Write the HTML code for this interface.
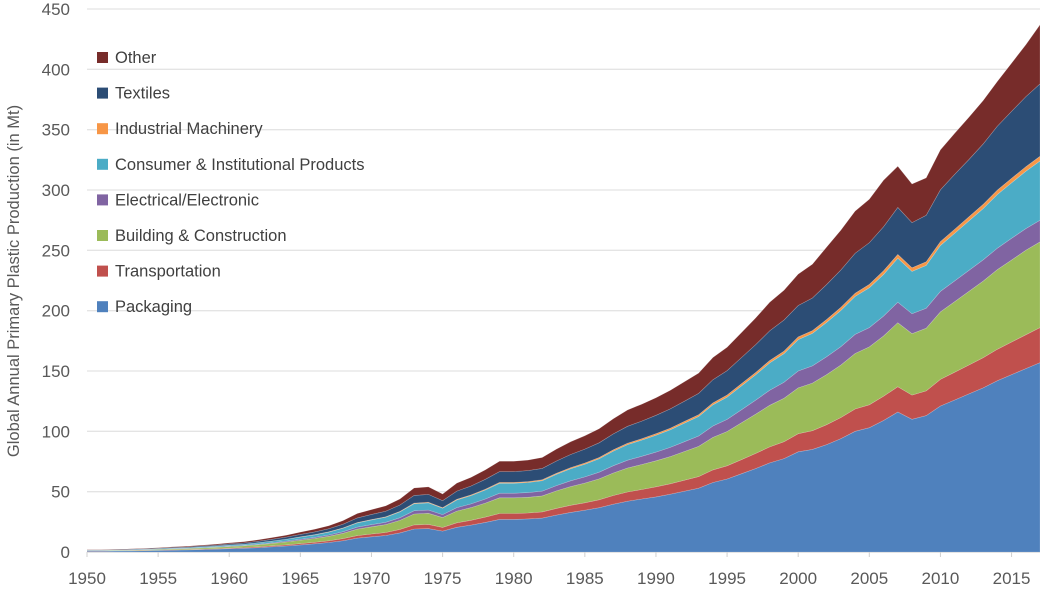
<!DOCTYPE html>
<html><head><meta charset="utf-8"><style>
html,body{margin:0;padding:0;background:#fff;}
svg{display:block;font-family:"Liberation Sans",sans-serif;}
</style></head><body>
<svg id="chart" width="1044" height="590" viewBox="0 0 1044 590"></svg>
<script>
const years = []; for (let y = 1950; y <= 2017; y++) years.push(y);
const packaging = [0.7,0.7,0.8,0.9,1.1,1.3,1.5,1.7,2,2.3, 2.7,3.1,3.6,4.3,5,5.9,6.8,7.9,9.4,11.5, 12.6,13.7,15.8,19.1,19.4,17.3,20.5,22.3,24.5,27, 27,27.4,28.1,30.6,32.8,34.6,36.7,39.6,42.1,43.9, 45.7,47.9,50.4,52.9,57.6,60.5,64.8,69.1,73.8,77.4, 83,85,89,94,100,103,109,116,110,113, 121,126,131,136,142,147,152,157];
const transportation = [0.1,0.1,0.15,0.2,0.2,0.2,0.3,0.3,0.4,0.4, 0.5,0.6,0.7,0.8,0.9,1.1,1.2,1.4,1.7,2.1, 2.3,2.5,2.9,3.4,3.5,3.1,3.7,4,4.4,4.9, 4.9,4.9,5.1,5.5,5.9,6.2,6.6,7.2,7.6,7.9, 8.3,8.6,9.1,9.6,10.4,10.9,11.7,12.5,13.3,14, 15,15.5,16.5,17.5,18.5,19,20,21,20,20.5, 22,23,24,25,26,27,28,29];
const building = [0.3,0.3,0.4,0.4,0.5,0.6,0.7,0.8,0.9,1.1, 1.3,1.4,1.7,2,2.4,2.8,3.2,3.7,4.4,5.4, 6,6.5,7.5,9,9.2,8.2,9.7,10.5,11.6,13, 13,13,13.3,14.5,15.5,16.3,17.3,18.7,19.9,20.7, 21.6,22.6,23.8,25,27,28.5,30.5,32.5,34.5,36, 38,39.5,41.5,43.5,46,48,50,53,51,52, 56,58.5,61,63.5,66,68,70,71];
const electrical = [0.1,0.1,0.1,0.1,0.15,0.2,0.2,0.2,0.3,0.3, 0.4,0.4,0.5,0.6,0.7,0.8,0.9,1.1,1.3,1.6, 1.8,1.9,2.2,2.7,2.7,2.4,2.9,3.1,3.4,3.8, 3.8,3.9,4,4.4,4.8,5.1,5.5,6,6.5,6.8, 7.2,7.6,8.1,8.6,9.4,10,10.8,11.6,12.5,13.3, 14,14.2,14.8,15.2,15.8,16,16.5,17,16.5,16.5, 17,17.2,17.4,17.6,17.8,18,18,18];
const consumer = [0.2,0.2,0.25,0.3,0.3,0.4,0.5,0.5,0.6,0.7, 0.8,0.9,1.1,1.3,1.5,1.8,2.1,2.4,2.9,3.5, 3.9,4.2,4.8,5.8,5.9,5.3,6.3,6.8,7.5,8.2, 8.2,8.4,8.6,9.4,10,10.6,11.2,12.1,12.9,13.4, 14,14.6,15.4,16.2,17.6,18.5,19.8,21.1,22.6,23.7, 26,27,28.5,30,31.5,33,34.5,36.5,35,35.5, 38,39.5,41,42.5,44.5,46,47.5,49];
const industrial = [0.02,0.02,0.02,0.03,0.03,0.04,0.04,0.05,0.06,0.07, 0.08,0.09,0.1,0.12,0.14,0.17,0.19,0.22,0.26,0.32, 0.35,0.38,0.44,0.53,0.54,0.48,0.57,0.62,0.68,0.75, 0.75,0.76,0.78,0.85,0.91,0.96,1,1.1,1.2,1.2, 1.3,1.3,1.4,1.5,1.6,1.7,1.8,1.9,2,2.1, 2.3,2.3,2.4,2.6,2.7,2.8,3,3.1,3,3, 3.2,3.3,3.4,3.5,3.6,3.7,3.8,3.9];
const textiles = [0.2,0.2,0.3,0.3,0.4,0.4,0.5,0.6,0.7,0.8, 0.9,1,1.2,1.4,1.7,2,2.3,2.6,3.1,3.8, 4.2,4.6,5.3,6.4,6.5,5.8,6.8,7.4,8.2,9, 9,9.1,9.4,10.2,10.9,11.5,12.2,13.2,14,14.6, 15.2,16,16.8,17.6,19.2,20.2,21.6,23,24.6,25.8, 26,27,29,31,33,34.5,36.5,39,37.5,38.5, 43,45.5,47.5,50,53,55.5,58,60];
const other = [0.2,0.2,0.25,0.3,0.3,0.4,0.5,0.6,0.6,0.8, 0.9,1,1.1,1.4,1.6,1.9,2.2,2.5,3,3.7, 4,4.4,5,6.1,6.2,5.5,6.6,7.1,7.8,8.6, 8.6,8.7,9,9.8,10.5,11,11.7,12.6,13.5,14, 14.6,15.3,16.1,16.9,18.4,19.3,20.7,22.1,23.6,24.7, 26,28,31,33,35,36,38.5,34,32,31, 33,34,35,36,37,40,43,49];
const yTicks = [0,50,100,150,200,250,300,350,400,450];
const xTicks = [1950,1955,1960,1965,1970,1975,1980,1985,1990,1995,2000,2005,2010,2015];
const seriesNames = ["Packaging","Transportation","Building & Construction","Electrical/Electronic","Consumer & Institutional Products","Industrial Machinery","Textiles","Other"];

const series = [packaging,transportation,building,electrical,consumer,industrial,textiles,other];
const colors = ["#4f81bd","#c0504d","#9bbb59","#8064a2","#4bacc6","#f79646","#2c4d75","#772c2a"];
const NS = "http://www.w3.org/2000/svg";
const svg = document.getElementById("chart");
const X0 = 87, X1 = 1040, Y0 = 552, Y1 = 9;
const xs = y => X0 + (y - 1950) / (2017 - 1950) * (X1 - X0);
const ys = v => Y0 - v / 450 * (Y0 - Y1);
function mk(tag, attrs) { const e = document.createElementNS(NS, tag); for (const k in attrs) e.setAttribute(k, attrs[k]); svg.appendChild(e); return e; }

yTicks.forEach(t => {
  const g = mk("line", {x1: X0, x2: X1, y1: ys(t), y2: ys(t), stroke: t === 0 ? "#d0d0d0" : "#e4e4e4", "stroke-width": 1.3});
  
  
  const l = mk("text", {x: 70, y: ys(t) + 6, "text-anchor": "end", "font-size": 17, fill: "#595959"});
  l.textContent = t;
  
  
});
xTicks.forEach(t => {
  const tk = mk("line", {x1: xs(t), x2: xs(t), y1: Y0, y2: Y0 + 5, stroke: "#d0d0d0"});
  
  
  const l = mk("text", {x: xs(t), y: 584, "text-anchor": "middle", "font-size": 17, fill: "#595959"});
  l.textContent = t;
  
  
});

const base = years.map(() => 0);
series.forEach((s, i) => {
  const top = base.map((b, j) => b + s[j]);
  let d = "M" + years.map((y, j) => xs(y).toFixed(1) + "," + ys(top[j]).toFixed(1)).join("L");
  for (let j = years.length - 1; j >= 0; j--) d += "L" + xs(years[j]).toFixed(1) + "," + ys(base[j]).toFixed(1);
  d += "Z";
  const p = mk("path", {d: d, fill: colors[i], stroke: "rgba(255,255,255,0.25)", "stroke-width": 0.6});
  
  
  top.forEach((v, j) => base[j] = v);
});

for (let i = series.length - 1; i >= 0; i--) {
  const row = series.length - 1 - i;
  const yy = 58 + row * 35.6;
  const r = mk("rect", {x: 97, y: yy - 6, width: 11, height: 11, fill: colors[i]});
  
  
  const t = mk("text", {x: 115, y: yy + 5, "font-size": 16.5, fill: "#404040"});
  t.textContent = seriesNames[i];
  
  
}

const yt = mk("text", {x: 0, y: 0, transform: "translate(19,281) rotate(-90)", "text-anchor": "middle", "font-size": 16.5, fill: "#595959"});
yt.textContent = "Global Annual Primary Plastic Production (in Mt)";


</script>
</body></html>
